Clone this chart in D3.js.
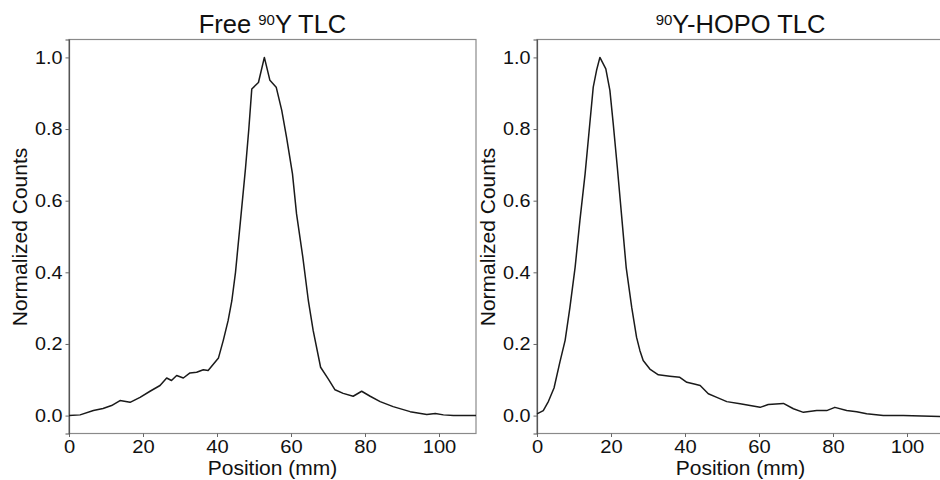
<!DOCTYPE html>
<html>
<head>
<meta charset="utf-8">
<script src="https://cdn.jsdelivr.net/npm/d3@7"></script>
<style>
  body { margin: 0; background: #fff; }
  svg { display: block; }
  text { font-family: "Liberation Sans", Arial, sans-serif; fill: #111; }
</style>
</head>
<body>
<div id="chart-area"></div>
<script>
// Free 90Y TLC scan, position (mm) and normalized counts
const freeX = [0, 3, 6.6, 9.2, 11.5, 13.8, 16.5, 19.2, 21.9, 24.6, 26.4, 27.7, 29.1, 30.9, 32.7, 34.5, 36.3, 37.6,
  40.4, 41.7, 43.0, 44.0, 45.0, 46.4, 47.7, 48.6, 49.4, 51.2, 52.8, 54.3, 56.0, 57.5, 58.8, 60.4, 61.5, 63.2,
  64.7, 66.0, 68.0, 70.1, 71.9, 74.1, 76.8, 79.1, 81.4, 84.1, 87.6, 92.2, 96.7, 99.0, 101.2, 103.9, 110];
const freeY = [0.000, 0.002, 0.014, 0.020, 0.028, 0.042, 0.037, 0.051, 0.068, 0.084, 0.105, 0.098, 0.112, 0.105, 0.119, 0.121, 0.128, 0.126,
  0.161, 0.210, 0.265, 0.320, 0.400, 0.550, 0.690, 0.800, 0.912, 0.930, 1.000, 0.936, 0.917, 0.852, 0.777, 0.675, 0.563, 0.442,
  0.320, 0.237, 0.135, 0.102, 0.072, 0.062, 0.054, 0.068, 0.054, 0.039, 0.025, 0.011, 0.003, 0.006, 0.002, 0.000, 0.000];

// 90Y-HOPO TLC scan
const hopoX = [0, 1.7, 3.1, 4.6, 6.2, 7.6, 8.9, 10.3, 11.6, 13.0, 14.1, 15.2, 16.1, 17.0, 18.6, 19.7, 20.6, 21.7, 22.9,
  24.1, 25.6, 26.9, 27.8, 28.7, 30.5, 32.8, 35.9, 38.6, 40.5, 42.5, 44.1, 46.3, 48.6, 51.3, 54.9, 57.6, 60.3, 62.5,
  66.6, 69.3, 72.0, 75.6, 78.3, 80.5, 83.7, 86.4, 89.1, 93.6, 99.0, 110];
const hopoY = [0.005, 0.014, 0.040, 0.077, 0.150, 0.210, 0.302, 0.414, 0.545, 0.675, 0.796, 0.917, 0.964, 1.000, 0.968, 0.908, 0.815, 0.694, 0.554,
  0.414, 0.302, 0.219, 0.182, 0.154, 0.130, 0.114, 0.110, 0.107, 0.093, 0.088, 0.084, 0.061, 0.051, 0.039, 0.033, 0.028, 0.023, 0.031,
  0.034, 0.019, 0.009, 0.014, 0.014, 0.023, 0.014, 0.011, 0.005, 0.000, 0.000, -0.003];

const xTicks = [0, 20, 40, 60, 80, 100];
const yTicks = [0.0, 0.2, 0.4, 0.6, 0.8, 1.0];

const width = 940;
const height = 480;

const svg = d3.select('#chart-area').append('svg')
  .attr('width', width)
  .attr('height', height);

// one panel per scan
function drawPanel(left, xs, ys, title) {
  const x = d3.scaleLinear().domain([0, 110]).range([left, left + 407]);
  const y = d3.scaleLinear().domain([-0.05, 1.05]).range([433.5, 39.5]);

  const g = svg.append('g');

  // frame
  g.append('rect')
    .attr('x', left)
    .attr('y', 39.5)
    .attr('width', 407)
    .attr('height', 394)
    .attr('fill', 'none')
    .attr('stroke', '#8a8a8a')
    .attr('stroke-width', 1.2);

  // x axis
  const xAxisCall = d3.axisBottom(x)
    .tickValues(xTicks)
    .tickSize(3.5)
    .tickPadding(3.5)
    .tickFormat(d3.format('d'));
  const xa = g.append('g')
    .attr('transform', 'translate(0, 433.5)')
    .call(xAxisCall);
  xa.select('.domain').remove();
  xa.selectAll('line').attr('stroke', '#666');
  // the source is a little stretched sideways
  xa.selectAll('text')
    .attr('font-size', '18px')
    .attr('fill', '#111')
    .attr('transform', 'scale(1.12, 1)');

  // y axis
  const yAxisCall = d3.axisLeft(y)
    .tickValues(yTicks)
    .tickSize(3.5)
    .tickPadding(2.5)
    .tickFormat(d3.format('.1f'));
  const ya = g.append('g')
    .attr('transform', 'translate(' + left + ', 0)')
    .call(yAxisCall);
  ya.select('.domain').attr('stroke', '#555').attr('stroke-width', 1.2);
  ya.selectAll('line').attr('stroke', '#666');
  ya.selectAll('text')
    .attr('font-size', '18px')
    .attr('fill', '#111')
    .attr('transform', 'scale(1.1, 1)');

  // labels
  g.append('text')
    .attr('x', left + 203.5)
    .attr('y', 475)
    .attr('font-size', '21px')
    .attr('text-anchor', 'middle')
    .text('Position (mm)');

  g.append('text')
    .attr('transform', 'translate(' + (left - 42) + ', 237) rotate(-90)')
    .attr('font-size', '21px')
    .attr('text-anchor', 'middle')
    .text('Normalized Counts');

  const t = g.append('text')
    .attr('x', left + 203.5)
    .attr('y', 33)
    .attr('font-size', '25.5px')
    .attr('text-anchor', 'middle');
  title.forEach((part) => {
    const s = t.append('tspan').text(part.text);
    if (part.sup) {
      s.attr('font-size', '15px').attr('dy', '-8');
    } else if (part.after) {
      s.attr('dy', '8');
    }
  });

  // the scan line
  const line = d3.line()
    .x((d, i) => x(xs[i]))
    .y((d, i) => y(ys[i]));
  g.append('path')
    .datum(ys)
    .attr('d', line)
    .attr('fill', 'none')
    .attr('stroke', '#1a1a1a')
    .attr('stroke-width', 1.5)
    .attr('stroke-linejoin', 'round');
}

drawPanel(69, freeX, freeY, [
  { text: 'Free ' },
  { text: '90', sup: true },
  { text: 'Y TLC', after: true }
]);

drawPanel(537, hopoX, hopoY, [
  { text: '90', sup: true },
  { text: 'Y-HOPO TLC', after: true }
]);
</script>
</body>
</html>
